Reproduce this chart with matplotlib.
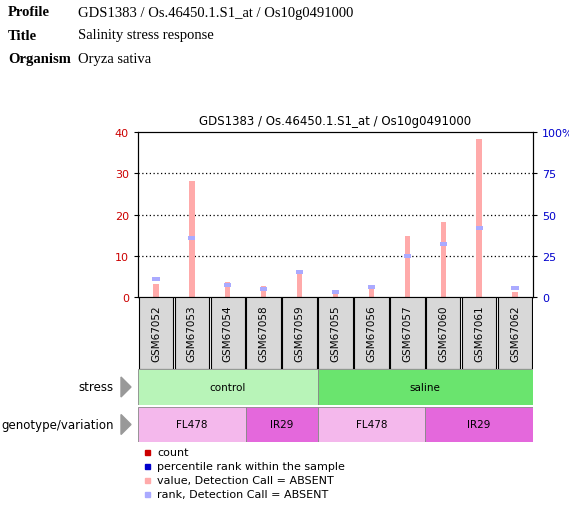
import matplotlib.pyplot as plt
from matplotlib.patches import Rectangle

samples = ['GSM67052', 'GSM67053', 'GSM67054', 'GSM67058', 'GSM67059', 'GSM67055',
           'GSM67056', 'GSM67057', 'GSM67060', 'GSM67061', 'GSM67062']
values = [3.2, 28.1, 3.7, 2.7, 6.0, 1.5, 3.0, 14.8, 18.2, 38.2, 1.2]
ranks = [11, 36, 7.5, 5, 15, 3, 6, 25, 32, 42, 5.5]
stress = [('control', 5, '#b8f4b8'), ('saline', 6, '#6ae46e')]
genotype = [('FL478', 3, '#f4b8ec'), ('IR29', 2, '#e468dc'), ('FL478', 3, '#f4b8ec'), ('IR29', 3, '#e468dc')]

W, H = 569, 506
fig = plt.figure(figsize=(W / 100, H / 100), dpi=100)

def ax_px(x0, y0, x1, y1):
    return fig.add_axes([x0 / W, 1 - y1 / H, (x1 - x0) / W, (y1 - y0) / H])

# header text
fig.text(8 / W, 1 - 13 / H, 'Profile', fontsize=10.5, fontweight='bold', family='Liberation Serif', va='center')
fig.text(78 / W, 1 - 13 / H, 'GDS1383 / Os.46450.1.S1_at / Os10g0491000', fontsize=10.5, family='Liberation Serif', va='center')
fig.text(8 / W, 1 - 36 / H, 'Title', fontsize=10.5, fontweight='bold', family='Liberation Serif', va='center')
fig.text(78 / W, 1 - 36 / H, 'Salinity stress response', fontsize=10.5, family='Liberation Serif', va='center')
fig.text(8 / W, 1 - 59 / H, 'Organism', fontsize=10.5, fontweight='bold', family='Liberation Serif', va='center')
fig.text(78 / W, 1 - 59 / H, 'Oryza sativa', fontsize=10.5, family='Liberation Serif', va='center')

n = len(samples)
x = list(range(n))
ax = ax_px(138, 133, 533, 298)
ax.bar(x, values, width=0.15, color='#ffaaaa', zorder=2)
ax2 = ax.twinx()
ax2.bar(x, [2.5] * n, bottom=[r - 1.25 for r in ranks], width=0.2, color='#aaaaff', zorder=3)
ax.set_xlim(-0.5, n - 0.5)
ax.set_ylim(0, 40)
ax2.set_ylim(0, 100)
ax.set_yticks([0, 10, 20, 30, 40])
ax2.set_yticks([0, 25, 50, 75, 100])
ax2.set_yticklabels(['0', '25', '50', '75', '100%'])
ax.tick_params(axis='y', labelcolor='#cc0000', labelsize=8, length=3)
ax2.tick_params(axis='y', labelcolor='#0000cc', labelsize=8, length=3)
ax.set_xticks([])
for yv in [10, 20, 30]:
    ax.axhline(yv, color='black', linestyle=(0, (1, 2)), linewidth=0.9, zorder=1)
ax.set_title('GDS1383 / Os.46450.1.S1_at / Os10g0491000', fontsize=8.5, pad=6)

# sample label boxes
axs = ax_px(138, 298, 533, 370)
axs.set_xlim(-0.5, n - 0.5)
axs.set_ylim(0, 1)
axs.axis('off')
for i, s in enumerate(samples):
    axs.add_patch(Rectangle((i - 0.48, 0), 0.96, 1, facecolor='#d8d8d8', edgecolor='black', linewidth=0.8))
    axs.text(i, 0.5, s, rotation=90, ha='center', va='center', fontsize=7.5)

def row(y0, y1, groups, label):
    a = ax_px(138, y0, 533, y1)
    a.set_xlim(-0.5, n - 0.5)
    a.set_ylim(0, 1)
    a.axis('off')
    start = -0.5
    for name, cnt, col in groups:
        a.add_patch(Rectangle((start, 0), cnt, 1, facecolor=col, edgecolor='#888888', linewidth=0.6))
        a.text(start + cnt / 2, 0.5, name, ha='center', va='center', fontsize=7.5)
        start += cnt
    yc = 1 - (y0 + y1) / 2 / H
    fig.text(114 / W, yc, label, ha='right', va='center', fontsize=8.5)
    fig.patches.append(plt.Polygon([[121 / W, yc + 10 / H], [121 / W, yc - 10 / H], [131 / W, yc]],
                                   closed=True, transform=fig.transFigure, color='#999999'))

row(370, 406, stress, 'stress')
row(408, 443, genotype, 'genotype/variation')

legend = [('#cc0000', 'count'), ('#0000cc', 'percentile rank within the sample'),
          ('#ffaaaa', 'value, Detection Call = ABSENT'), ('#aaaaff', 'rank, Detection Call = ABSENT')]
for k, (c, t) in enumerate(legend):
    yy = 453 + k * 14
    fig.patches.append(Rectangle((145 / W, 1 - (yy + 3) / H), 5 / W, 5 / H, color=c, transform=fig.transFigure))
    fig.text(157 / W, 1 - yy / H, t, va='center', fontsize=8)

fig.savefig('out.png', dpi=100)
